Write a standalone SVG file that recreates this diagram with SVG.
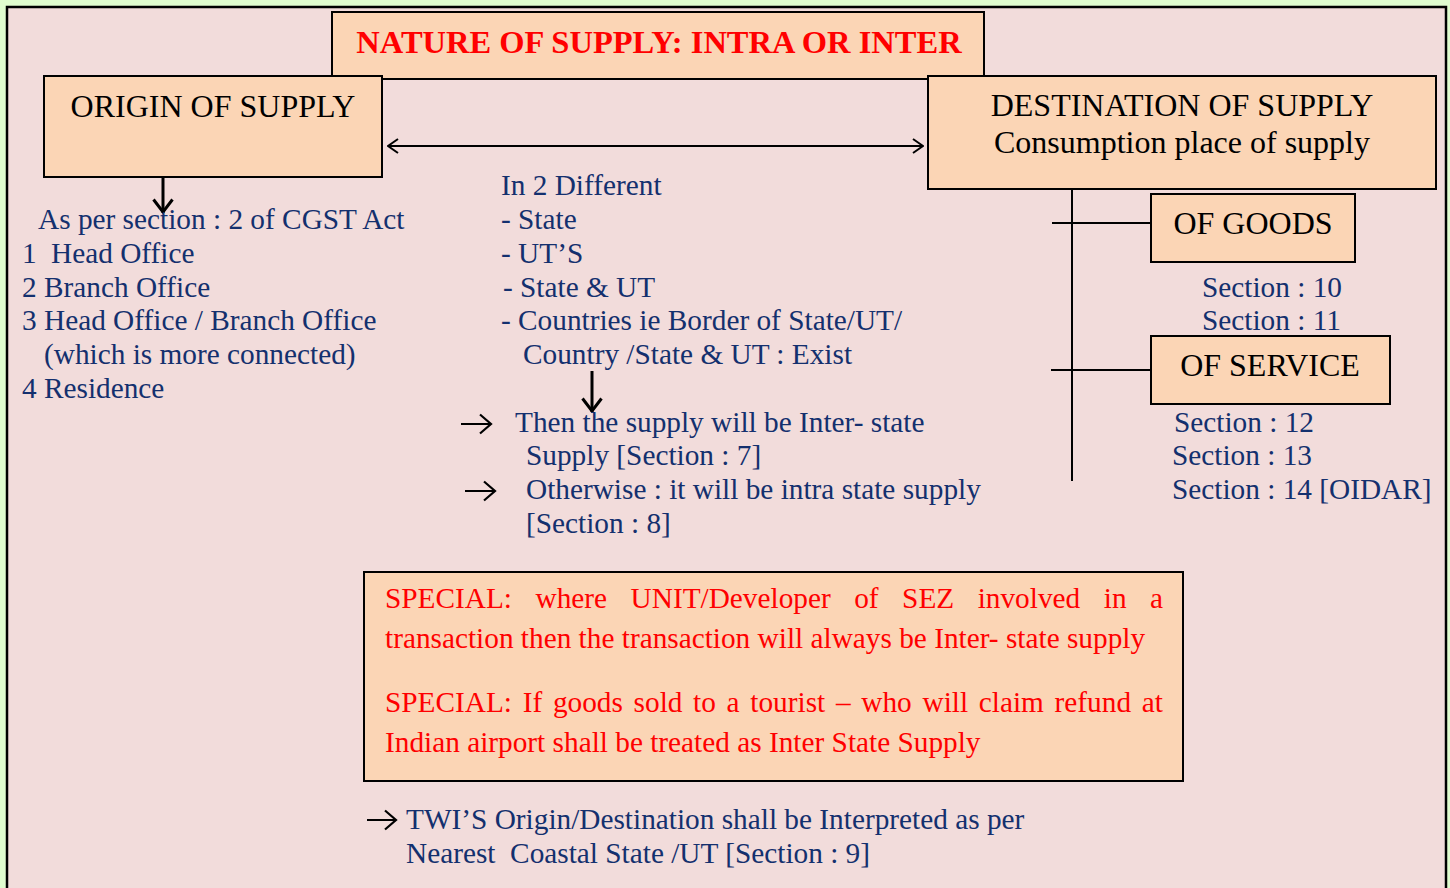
<svg xmlns="http://www.w3.org/2000/svg" width="1450" height="888" viewBox="0 0 1450 888">
  <style>
    .box { fill: #fbd5b5; stroke: #000; stroke-width: 2; }
    .lbl { font-family: "Liberation Serif", "Times New Roman", serif; font-size: 32px; fill: #000; }
    .title { font-family: "Liberation Serif", "Times New Roman", serif; font-size: 32.5px; font-weight: bold; fill: #ff0000; }
    .txt { font-family: "Liberation Serif", "Times New Roman", serif; font-size: 29.3px; fill: #14306e; }
    .red { font-family: "Liberation Serif", "Times New Roman", serif; font-size: 29.3px; fill: #ff0000; }
    .line { stroke: #000; stroke-width: 2; fill: none; }
    .thick { stroke: #000; stroke-width: 3; fill: none; }
  </style>
  <defs>
    <marker id="chev" viewBox="0 0 12 16" refX="11" refY="8" markerWidth="12" markerHeight="16" markerUnits="userSpaceOnUse" orient="auto-start-reverse">
      <path d="M1,1 L11,8 L1,15" fill="none" stroke="#000" stroke-width="2"/>
    </marker>
    <marker id="chevDown" viewBox="0 0 22 16" refX="11" refY="15" markerWidth="22" markerHeight="16" markerUnits="userSpaceOnUse" orient="0">
      <path d="M1.5,1.5 L11,14 L20.5,1.5" fill="none" stroke="#000" stroke-width="3"/>
    </marker>
    <marker id="smallHead" viewBox="0 0 14 22" refX="12.5" refY="11" markerWidth="14" markerHeight="22" markerUnits="userSpaceOnUse" orient="auto">
      <path d="M1.5,1.5 L12.5,11 L1.5,20.5" fill="none" stroke="#000" stroke-width="2.2"/>
    </marker>
  </defs>

  <!-- page -->
  <rect x="0" y="0" width="1450" height="888" fill="#e0fdcf"/>
  <rect x="7" y="7" width="1439" height="900" fill="#f2dcdb" stroke="#000" stroke-width="2.5"/>

  <!-- connectors -->
  <g id="connectors">
    <line class="line" x1="388" y1="146" x2="923" y2="146" marker-start="url(#chev)" marker-end="url(#chev)"/>
    <line class="thick" x1="163" y1="172" x2="163" y2="213" marker-end="url(#chevDown)"/>
    <line class="thick" x1="592" y1="371" x2="592" y2="412" marker-end="url(#chevDown)"/>
    <line class="line" x1="1072" y1="173" x2="1072" y2="481"/>
    <line class="line" x1="1052" y1="223" x2="1151" y2="223"/>
    <line class="line" x1="1051" y1="370" x2="1151" y2="370"/>
    <line class="line" x1="461" y1="424" x2="491" y2="424" marker-end="url(#smallHead)"/>
    <line class="line" x1="465" y1="491" x2="495" y2="491" marker-end="url(#smallHead)"/>
    <line class="line" x1="367" y1="820" x2="396" y2="820" marker-end="url(#smallHead)"/>
  </g>

  <!-- title -->
  <g id="title">
    <rect class="box" x="332" y="12" width="652" height="67"/>
    <text class="title" x="659" y="53" text-anchor="middle">NATURE OF SUPPLY: INTRA OR INTER</text>
  </g>

  <!-- origin of supply -->
  <g id="origin">
    <rect class="box" x="44" y="76" width="338" height="101"/>
    <text class="lbl" x="213" y="117" text-anchor="middle">ORIGIN OF SUPPLY</text>
  </g>

  <g id="origin-rules">
    <text class="txt" x="38" y="229">As per section : 2 of CGST Act</text>
    <text class="txt" y="263"><tspan x="22">1</tspan><tspan x="51">Head Office</tspan></text>
    <text class="txt" x="22" y="297">2 Branch Office</text>
    <text class="txt" x="22" y="330">3 Head Office / Branch Office</text>
    <text class="txt" x="44" y="364">(which is more connected)</text>
    <text class="txt" x="22" y="398">4 Residence</text>
  </g>

  <!-- destination of supply -->
  <g id="destination">
    <rect class="box" x="928" y="76" width="508" height="113"/>
    <text class="lbl" x="1182" y="116" text-anchor="middle">DESTINATION OF SUPPLY</text>
    <text class="lbl" x="1182" y="153" text-anchor="middle">Consumption place of supply</text>
  </g>

  <g id="goods">
    <rect class="box" x="1151" y="194" width="204" height="68"/>
    <text class="lbl" x="1253" y="234" text-anchor="middle">OF GOODS</text>
  </g>
  <g id="goods-sections">
    <text class="txt" x="1202" y="297">Section : 10</text>
    <text class="txt" x="1202" y="330">Section : 11</text>
  </g>

  <g id="service">
    <rect class="box" x="1151" y="336" width="239" height="68"/>
    <text class="lbl" x="1270" y="376" text-anchor="middle">OF SERVICE</text>
  </g>
  <g id="service-sections">
    <text class="txt" x="1174" y="432">Section : 12</text>
    <text class="txt" x="1172" y="465">Section : 13</text>
    <text class="txt" x="1172" y="499">Section : 14 [OIDAR]</text>
  </g>

  <!-- middle conditions -->
  <g id="conditions">
    <text class="txt" x="501" y="195">In 2 Different</text>
    <text class="txt" x="501" y="229">- State</text>
    <text class="txt" x="501" y="263">- UT’S</text>
    <text class="txt" x="503" y="297">- State &amp; UT</text>
    <text class="txt" x="501" y="330">- Countries ie Border of State/UT/</text>
    <text class="txt" x="523" y="364">Country /State &amp; UT : Exist</text>
  </g>

  <g id="result">
    <text class="txt" x="515" y="432">Then the supply will be Inter- state</text>
    <text class="txt" x="526" y="465">Supply [Section : 7]</text>
    <text class="txt" x="526" y="499">Otherwise : it will be intra state supply</text>
    <text class="txt" x="526" y="533">[Section : 8]</text>
  </g>

  <!-- special cases (justified lines set word by word) -->
  <g id="special">
    <rect class="box" x="364" y="572" width="819" height="209"/>
    <text class="red" y="608"><tspan x="385">SPECIAL:</tspan><tspan x="535.5">where</tspan><tspan x="630.6">UNIT/Developer</tspan><tspan x="854.2">of</tspan><tspan x="902.1">SEZ</tspan><tspan x="977.7">involved</tspan><tspan x="1103.8">in</tspan><tspan x="1150.1">a</tspan></text>
    <text class="red" x="385" y="648">transaction then the transaction will always be Inter- state supply</text>
    <text class="red" y="712"><tspan x="385">SPECIAL:</tspan><tspan x="522.7">If</tspan><tspan x="552.9">goods</tspan><tspan x="633.6">sold</tspan><tspan x="693.1">to</tspan><tspan x="726.6">a</tspan><tspan x="750.3">tourist</tspan><tspan x="835.9">–</tspan><tspan x="861.3">who</tspan><tspan x="922.5">will</tspan><tspan x="978.8">claim</tspan><tspan x="1054.6">refund</tspan><tspan x="1141.8">at</tspan></text>
    <text class="red" x="385" y="752">Indian airport shall be treated as Inter State Supply</text>
  </g>

  <g id="twi-note">
    <text class="txt" x="406" y="829">TWI’S Origin/Destination shall be Interpreted as per</text>
    <text class="txt" x="406" y="863" xml:space="preserve">Nearest  Coastal State /UT [Section : 9]</text>
  </g>
</svg>
